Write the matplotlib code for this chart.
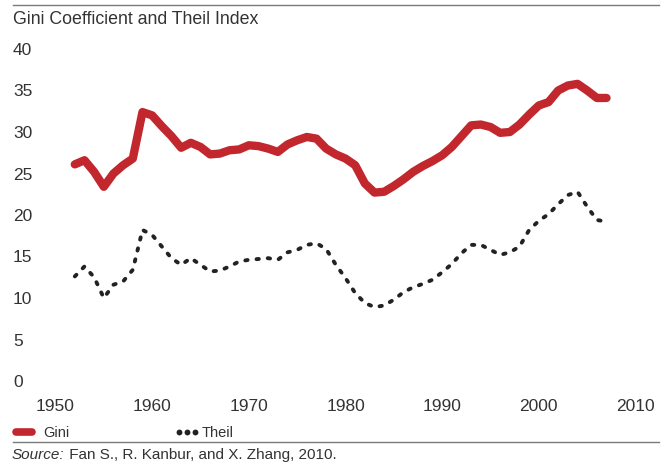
import matplotlib
matplotlib.use("Agg")
import matplotlib.pyplot as plt
from matplotlib.lines import Line2D

years = list(range(1952, 2008))
gini = [26.1, 26.6, 25.2, 23.4, 25.0, 26.0, 26.8, 32.4, 32.0, 30.7,
        29.5, 28.1, 28.7, 28.2, 27.3, 27.4, 27.8, 27.9, 28.4, 28.3,
        28.0, 27.6, 28.5, 29.0, 29.4, 29.2, 28.0, 27.3, 26.8, 26.0,
        23.8, 22.7, 22.8, 23.5, 24.3, 25.2, 25.9, 26.5, 27.2, 28.2,
        29.5, 30.8, 30.9, 30.6, 29.9, 30.0, 30.9, 32.1, 33.2, 33.6,
        35.0, 35.6, 35.8, 35.0, 34.1, 34.1]
theil = [12.6, 13.8, 12.5, 10.0, 11.6, 12.0, 13.4, 18.2, 17.6, 16.2,
         14.8, 14.0, 14.8, 14.0, 13.2, 13.3, 13.8, 14.4, 14.6, 14.7,
         14.8, 14.6, 15.5, 15.8, 16.4, 16.6, 15.9, 14.0, 12.4, 10.6,
         9.4, 8.9, 9.1, 9.8, 10.7, 11.3, 11.7, 12.2, 13.1, 14.1,
         15.4, 16.4, 16.4, 15.8, 15.2, 15.5, 16.2, 18.2, 19.3, 20.1,
         21.3, 22.4, 22.8, 21.0, 19.4, 19.2]
xticks = [1950, 1960, 1970, 1980, 1990, 2000, 2010]
yticks = [0, 5, 10, 15, 20, 25, 30, 35, 40]
title = "Gini Coefficient and Theil Index"
source_label = "Source:"
source_text = " Fan S., R. Kanbur, and X. Zhang, 2010."

plt.rcParams['font.family'] = ['Liberation Sans', 'DejaVu Sans']

RED = "#c1272d"
DARK = "#222222"
TXT = "#333333"
RULE = "#7a7a7a"

W, H = 670, 466
fig = plt.figure(figsize=(6.7, 4.66), dpi=100)
ax = fig.add_axes([31.3 / W, 1 - 389.3 / H, 628.4 / W, 348.6 / H])
ax.set_xlim(1947.5, 2012.5)
ax.set_ylim(-1, 41)

ax.plot(years, gini, color=RED, lw=6.0, solid_capstyle='round', solid_joinstyle='round')
ax.plot(years, theil, color=DARK, lw=2.8, linestyle=(0, (0.6, 2.3)),
        dash_capstyle='round', dash_joinstyle='round')

for s in ax.spines.values():
    s.set_visible(False)
ax.set_xticks(xticks)
ax.set_yticks(yticks)
ax.tick_params(length=0, labelsize=12.5, colors=TXT)
ax.tick_params(axis='y', pad=13.2)
for lab in ax.get_yticklabels():
    lab.set_horizontalalignment('left')
ax.tick_params(axis='x', pad=7)


def fx(px):
    return px / W


def fy(py):
    return 1 - py / H


fig.text(fx(13), fy(20), title, fontsize=12.8, color=TXT, va='center', ha='left')
fig.add_artist(Line2D([fx(13), fx(659)], [fy(4.5), fy(4.5)], color=RULE, lw=1.0))
fig.add_artist(Line2D([fx(13), fx(659)], [fy(441.5), fy(441.5)], color=RULE, lw=1.0))

# legend
fig.add_artist(Line2D([fx(16), fx(32)], [fy(432)] * 2, color=RED, lw=5.5,
                      solid_capstyle='round'))
fig.text(fx(43), fy(433), "Gini", fontsize=10.5, color=TXT, va='center', ha='left')
fig.add_artist(Line2D([fx(179), fx(187), fx(195)], [fy(432)] * 3, linestyle='none',
                      marker='o', markersize=4.2, color=DARK, markeredgewidth=0))
fig.text(fx(202), fy(433), "Theil", fontsize=10.5, color=TXT, va='center', ha='left')

# source
t1 = fig.text(fx(12), fy(455), source_label, fontsize=11, color=TXT, va='center',
              ha='left', style='italic')
ax.annotate(source_text, xy=(1, 0), xycoords=t1, va='bottom', ha='left',
            fontsize=11, color=TXT, annotation_clip=False)

fig.savefig("out.png", dpi=100)
